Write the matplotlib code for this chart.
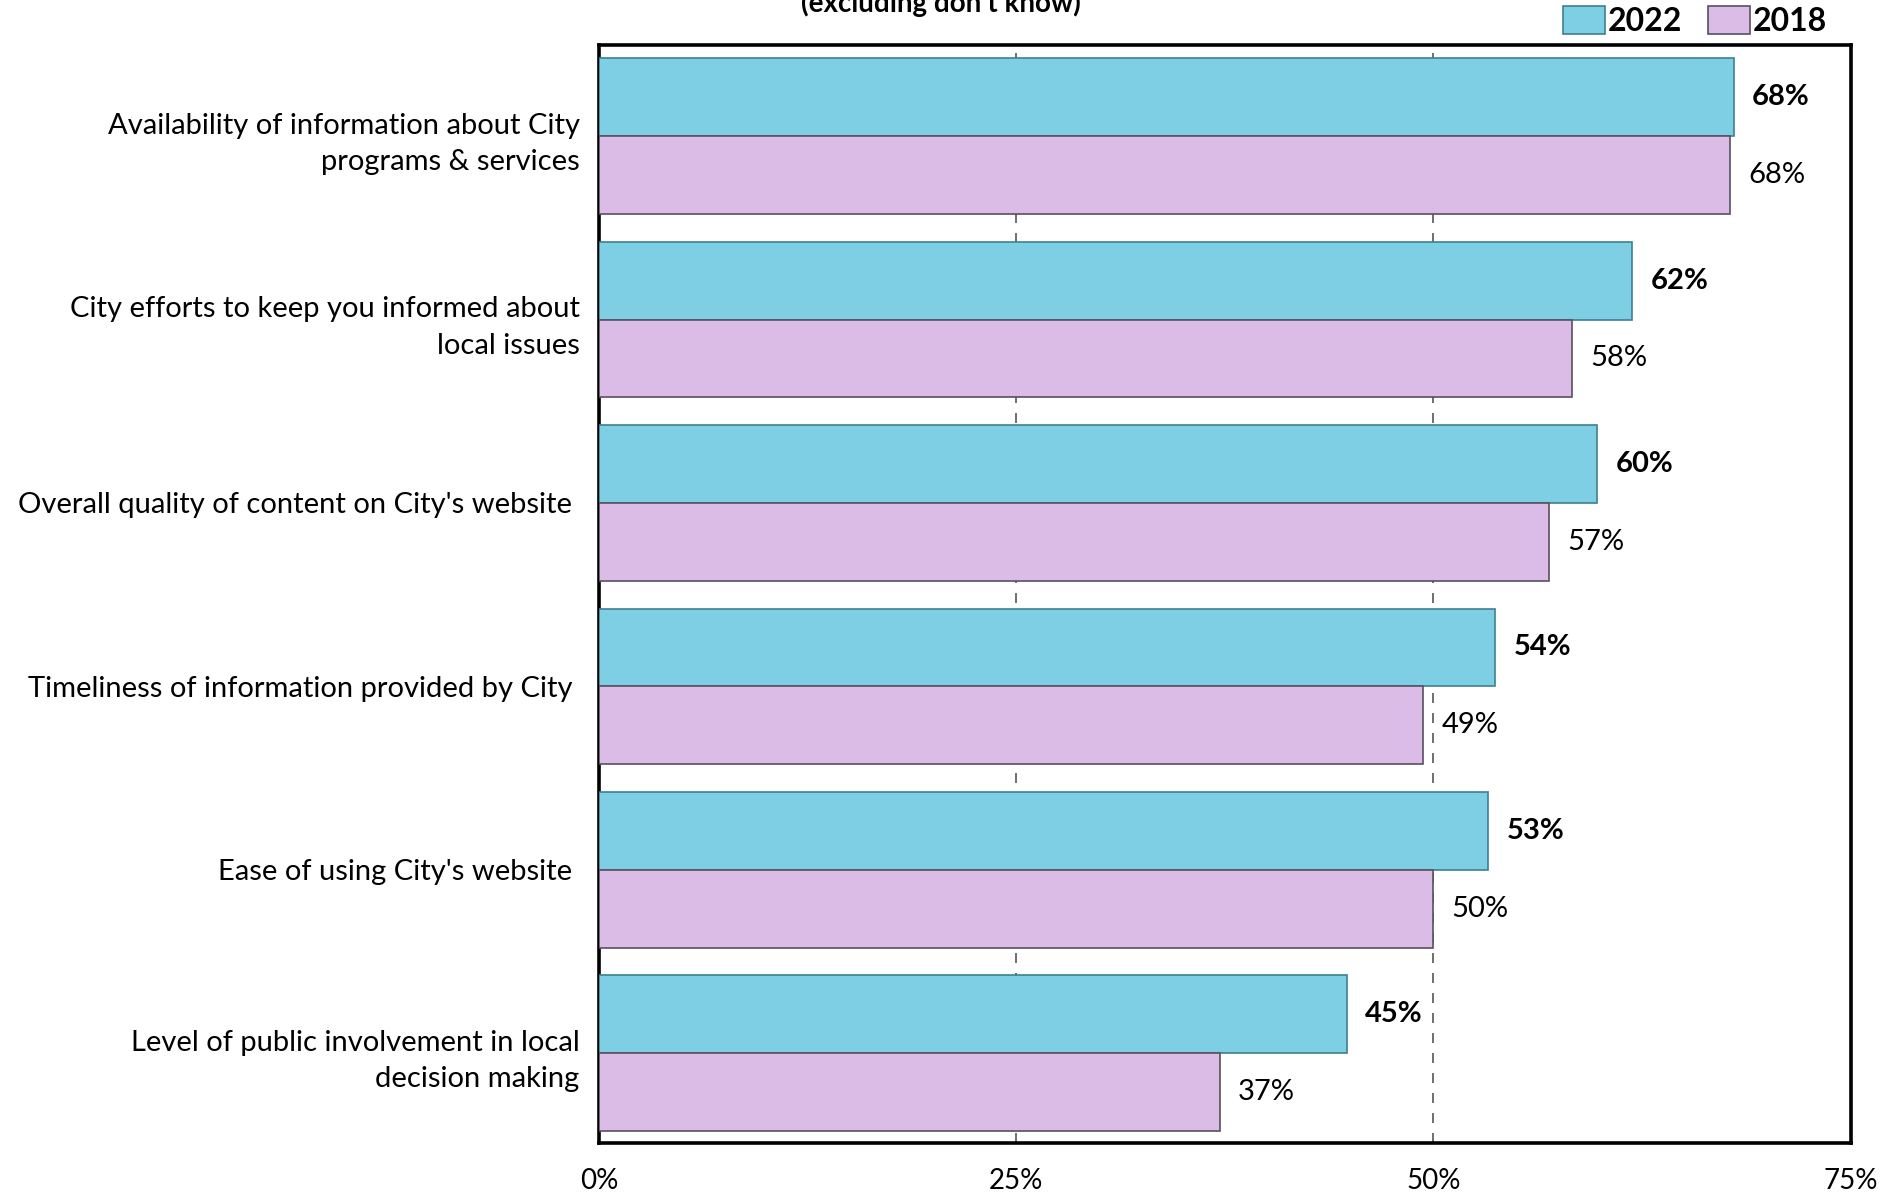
import matplotlib.pyplot as plt
import numpy as np
from matplotlib.patches import Patch

plt.rcParams["font.family"] = ["Lato", "DejaVu Sans"]

# -------------------------
# Data (bar lengths, labels as printed)
# -------------------------
categories = [
    "Availability of information about City\nprograms & services",
    "City efforts to keep you informed about\nlocal issues",
    "Overall quality of content on City's website ",
    "Timeliness of information provided by City ",
    "Ease of using City's website ",
    "Level of public involvement in local\ndecision making",
]
values_2022 = [68.0, 61.9, 59.8, 53.7, 53.3, 44.8]
values_2018 = [67.8, 58.3, 56.9, 49.4, 50.0, 37.2]
labels_2022 = ["68%", "62%", "60%", "54%", "53%", "45%"]
labels_2018 = ["68%", "58%", "57%", "49%", "50%", "37%"]
series_names = ["2022", "2018"]
tick_values = [0, 25, 50, 75]
tick_labels = ["0%", "25%", "50%", "75%"]
title = "(excluding don’t know)"

# -------------------------
# Styling
# -------------------------
color_2022 = "#7ECFE4"
edge_2022 = "#3E7F93"
color_2018 = "#DBBCE6"
edge_2018 = "#5A4F60"
bar_h = 0.424

fig = plt.figure(figsize=(19, 11.98), dpi=100)
ax = fig.add_axes([0.3153, 0.0459, 0.6587, 0.9165])

y = np.arange(len(categories))
ax.barh(y - bar_h / 2, values_2022, height=bar_h, color=color_2022,
        edgecolor=edge_2022, linewidth=1.2, zorder=3)
ax.barh(y + bar_h / 2, values_2018, height=bar_h, color=color_2018,
        edgecolor=edge_2018, linewidth=1.2, zorder=3)

for yi, v, lab in zip(y, values_2022, labels_2022):
    ax.text(v + 1.1, yi - bar_h / 2, lab, va="center", ha="left",
            fontsize=21, fontweight="bold", color="black")
for yi, v, lab in zip(y, values_2018, labels_2018):
    ax.text(v + 1.1, yi + bar_h / 2, lab, va="center", ha="left",
            fontsize=21, color="black")

ax.set_xlim(0, 75)
ax.set_ylim(len(categories) - 1 + bar_h + 0.066, -bar_h - 0.073)
ax.set_xticks(tick_values)
ax.set_xticklabels(tick_labels, fontsize=20)
ax.set_yticks(y)
ax.set_yticklabels(categories, fontsize=21, linespacing=1.5)
ax.tick_params(axis="x", length=0, pad=18)
ax.tick_params(axis="y", length=0, pad=14)

ax.xaxis.grid(True, linestyle=(0, (6, 6)), color="#555555", linewidth=1.2, zorder=0)
ax.set_axisbelow(True)
for s in ax.spines.values():
    s.set_linewidth(2.6)
    s.set_color("black")

handles = [
    Patch(facecolor=color_2022, edgecolor=edge_2022, linewidth=1.2),
    Patch(facecolor=color_2018, edgecolor=edge_2018, linewidth=1.2),
]
fig.legend(handles, series_names, loc="center right",
           bbox_to_anchor=(1827 / 1900, 1 - 21 / 1198), ncol=2, frameon=False,
           prop={"size": 23, "weight": "bold"}, handlelength=1.3,
           handleheight=1.0, handletextpad=0.1, columnspacing=0.8,
           borderaxespad=0, borderpad=0)

fig.text(0.495, 1 - 12 / 1198, title, ha="center", va="baseline",
         fontsize=20, fontweight="bold")

fig.savefig("out.png", dpi=100)
